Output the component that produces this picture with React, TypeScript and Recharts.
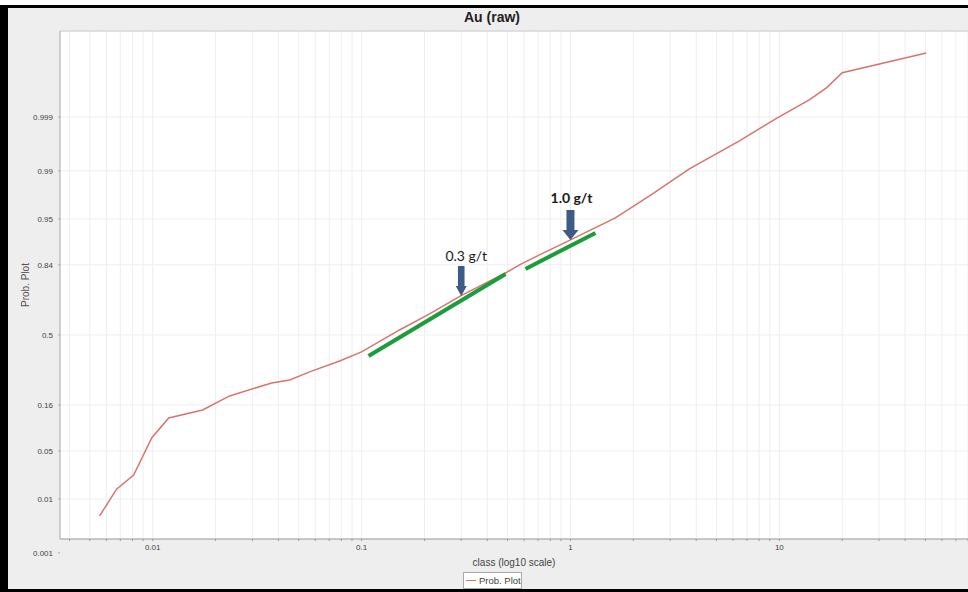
import React from 'react';
import {
  LineChart, Line, XAxis, YAxis, CartesianGrid, ReferenceLine, ReferenceDot,
} from 'recharts';

// Au (raw) probability plot: class value vs cumulative probability
const classValues = [
  0.00557, 0.00673, 0.00811, 0.00989, 0.01193, 0.01734, 0.02333, 0.0371, 0.0453, 0.0564,
  0.0785, 0.1, 0.152, 0.2115, 0.298, 0.489, 0.57, 0.711, 1.0, 1.64, 2.39, 3.71, 6.44, 9.78,
  13.9, 16.8, 20.0, 50.5,
];
const cumProb = [
  0.00513, 0.0145, 0.0235, 0.072, 0.1196, 0.1437, 0.1935, 0.248, 0.2617, 0.3,
  0.356, 0.405, 0.528, 0.617, 0.71, 0.81, 0.8397, 0.872, 0.911, 0.9515, 0.9757, 0.9907,
  0.99704, 0.99896, 0.99957, 0.99977, 0.9999, 0.999968,
];

const yTickProbs = [0.001, 0.01, 0.05, 0.16, 0.5, 0.84, 0.95, 0.99, 0.999];
const yTickLabels = ['0.001', '0.01', '0.05', '0.16', '0.5', '0.84', '0.95', '0.99', '0.999'];
const xMajorTicks = [0.01, 0.1, 1, 10];
const xMajorLabels = ['0.01', '0.1', '1', '10'];

// hand-drawn fit segments and arrows
const fitLowX = [0.108, 0.489];
const fitLowP = [0.383, 0.8065];
const fitHighX = [0.609, 1.317];
const fitHighP = [0.8254, 0.926];
const arrowX = [0.3, 1.0];
const arrowP = [0.71, 0.911];
const arrowLabels = ['0.3 g/t', '1.0 g/t'];

// inverse normal CDF (Acklam)
function probit(p: number) {
  const a = [-39.69683028665376, 220.9460984245205, -275.9285104469687, 138.357751867269, -30.66479806614716, 2.506628277459239];
  const b = [-54.47609879822406, 161.5858368580409, -155.6989798598866, 66.80131188771972, -13.28068155288572];
  const c = [-0.007784894002430293, -0.3223964580411365, -2.400758277161838, -2.549732539343734, 4.374664141464968, 2.938163982698783];
  const d = [0.007784695709041462, 0.3224671290700398, 2.445134137142996, 3.754408661907416];
  const pl = 0.02425;
  if (p < pl) {
    const q = Math.sqrt(-2 * Math.log(p));
    return (((((c[0] * q + c[1]) * q + c[2]) * q + c[3]) * q + c[4]) * q + c[5]) /
      ((((d[0] * q + d[1]) * q + d[2]) * q + d[3]) * q + 1);
  }
  if (p <= 1 - pl) {
    const q = p - 0.5;
    const r = q * q;
    return (((((a[0] * r + a[1]) * r + a[2]) * r + a[3]) * r + a[4]) * r + a[5]) * q /
      (((((b[0] * r + b[1]) * r + b[2]) * r + b[3]) * r + b[4]) * r + 1);
  }
  const q = Math.sqrt(-2 * Math.log(1 - p));
  return -(((((c[0] * q + c[1]) * q + c[2]) * q + c[3]) * q + c[4]) * q + c[5]) /
    ((((d[0] * q + d[1]) * q + d[2]) * q + d[3]) * q + 1);
}

const data = classValues.map((x, i) => ({ x, z: probit(cumProb[i]) }));
const yTicks = yTickProbs.map(probit);

const xTicks: number[] = [];
for (let e = -3; e <= 1; e++) {
  for (let m = 1; m <= 9; m++) {
    const v = m * Math.pow(10, e);
    if (v >= 0.0036 && v <= 80) xTicks.push(v);
  }
}

const X_DOMAIN = [0.0036, 80];
const Z_DOMAIN = [-2.894, 4.31];

const tickFont = { fontSize: 8, fill: '#444', fontFamily: 'Liberation Sans, Arial, sans-serif' };

const fmtX = (v: number) => {
  const i = xMajorTicks.findIndex(t => Math.abs(Math.log10(t) - Math.log10(v)) < 1e-6);
  return i >= 0 ? xMajorLabels[i] : '';
};
const fmtY = (v: number) => {
  const i = yTicks.findIndex(t => Math.abs(t - v) < 1e-6);
  return i >= 0 ? yTickLabels[i] : '';
};

function ArrowMark(props: any) {
  const { cx, cy, idx } = props;
  const big = idx === 1;
  const sw = big ? 4 : 3.3;
  const hw = big ? 8 : 5.5;
  const path = `M${cx - sw},${cy - 30} L${cx + sw},${cy - 30} L${cx + sw},${cy - 10} L${cx + hw},${cy - 10} L${cx},${cy} L${cx - hw},${cy - 10} L${cx - sw},${cy - 10} Z`;
  return (
    <g>
      <path d={path} fill="#3d5b84" />
      <text
        x={cx + (big ? 1 : 5)} y={cy - (big ? 37 : 35)} textAnchor="middle"
        fontFamily="Lato, 'Open Sans', sans-serif" fontSize={14}
        fontWeight={big ? 700 : 400} fill="#1a1a1a"
      >
        {arrowLabels[idx]}
      </text>
    </g>
  );
}

export default function App() {
  return (
    <div style={{ position: 'absolute', left: 0, top: 0, width: 968, height: 592, overflow: 'hidden', background: '#fff' }}>
      <div style={{
        position: 'absolute', left: 0, top: 5, width: 990, height: 587, boxSizing: 'border-box',
        borderLeft: '8px solid #000', borderTop: '3px solid #000', borderBottom: '3px solid #000',
        background: '#eeeeee',
      }} />
      <div style={{
        position: 'absolute', left: 8, top: 9, width: 968, textAlign: 'center',
        fontFamily: 'Liberation Sans, Arial, sans-serif', fontWeight: 700, fontSize: 14, color: '#222',
      }}>
        Au (raw)
      </div>
      <div style={{ position: 'absolute', left: 0, top: 0 }}>
        <LineChart width={968} height={592} data={data} margin={{ top: 31, right: 0, left: 0, bottom: 0 }}>
          <CartesianGrid stroke="#eeeeee" fill="#ffffff" />
          <XAxis
            dataKey="x" type="number" scale="log" domain={X_DOMAIN} allowDataOverflow
            ticks={xTicks} interval={0} tickFormatter={fmtX} tick={tickFont}
            tickSize={2} tickMargin={3} height={53}
            stroke="#999"
            label={{ value: 'class (log10 scale)', position: 'insideBottom', offset: 26, style: { fontSize: 10, fill: '#444', fontFamily: 'Liberation Sans, Arial, sans-serif' } }}
          />
          <YAxis
            dataKey="z" type="number" domain={Z_DOMAIN} allowDataOverflow
            ticks={yTicks} interval={0} tickFormatter={fmtY} tick={tickFont}
            tickSize={2} tickMargin={5} width={60}
            stroke="#aaa"
            label={{ value: 'Prob. Plot', angle: -90, position: 'insideLeft', offset: 25, style: { textAnchor: 'middle', fontSize: 10, fill: '#555', fontFamily: 'Liberation Sans, Arial, sans-serif' } }}
          />
          <ReferenceLine y={Z_DOMAIN[1]} stroke="#cccccc" />
          <Line
            dataKey="z" type="linear" stroke="#d9736f" strokeWidth={1.5}
            dot={false} isAnimationActive={false}
          />
          <ReferenceLine
            segment={[{ x: fitLowX[0], y: probit(fitLowP[0]) }, { x: fitLowX[1], y: probit(fitLowP[1]) }]}
            stroke="#1a9e3c" strokeWidth={4}
          />
          <ReferenceLine
            segment={[{ x: fitHighX[0], y: probit(fitHighP[0]) }, { x: fitHighX[1], y: probit(fitHighP[1]) }]}
            stroke="#1a9e3c" strokeWidth={4}
          />
          {arrowX.map((x, i) => (
            <ReferenceDot
              key={i} x={x} y={probit(arrowP[i])}
              shape={(p: any) => <ArrowMark {...p} idx={i} />}
            />
          ))}
        </LineChart>
      </div>
      <div style={{
        position: 'absolute', left: 463, top: 572, width: 59, height: 17, boxSizing: 'border-box',
        border: '1px solid #aaa', background: '#fff', display: 'flex', alignItems: 'center',
        fontFamily: 'Liberation Sans, Arial, sans-serif', fontSize: 9.5, color: '#444',
      }}>
        <span style={{ display: 'inline-block', width: 10, height: 0, borderTop: '1.5px solid #d9736f', margin: '0 3px 0 2px' }} />
        Prob. Plot
      </div>
    </div>
  );
}
